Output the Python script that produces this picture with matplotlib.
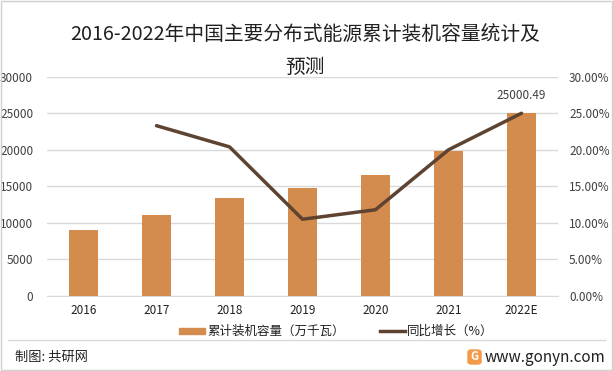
import matplotlib
matplotlib.use("Agg")
import matplotlib.pyplot as plt
from matplotlib.patches import Rectangle, FancyBboxPatch
from matplotlib.lines import Line2D

plt.rcParams['font.family'] = ['Noto Sans CJK SC', 'DejaVu Sans']

years = ["2016", "2017", "2018", "2019", "2020", "2021", "2022E"]
capacity = [9000, 11050, 13370, 14770, 16500, 19900, 25000.49]
growth_years = ["2017", "2018", "2019", "2020", "2021", "2022E"]
growth = [23.3, 20.4, 10.5, 11.8, 20.0, 25.0]
left_ticks = [0, 5000, 10000, 15000, 20000, 25000, 30000]
right_ticks = [0, 5, 10, 15, 20, 25, 30]

title = "2016-2022年中国主要分布式能源累计装机容量统计及\n预测"
bar_label = "累计装机容量（万千瓦）"
line_label = "同比增长（%）"

bar_color = "#D38B4E"
line_color = "#5E4330"

W, H = 613, 371
fig = plt.figure(figsize=(W / 100, H / 100), dpi=100)

ax = fig.add_axes([47 / W, 1 - 296 / H, (558 - 47) / W, (296 - 76.7) / H])
x = list(range(len(years)))
ax.bar(x, capacity, width=0.4, color=bar_color, zorder=3)
ax.set_xlim(-0.5, len(years) - 0.5)
ax.set_ylim(0, 30000)
ax.set_yticks(left_ticks)
ax.set_yticklabels([str(v) for v in left_ticks], fontsize=8.5, color="#404040")
ax.set_xticks(x)
ax.set_xticklabels(years, fontsize=8.5, color="#202020")
ax.tick_params(axis="both", length=0, pad=10)
ax.tick_params(axis="x", pad=6)
ax.grid(axis="y", color="#d9d9d9", linewidth=1, zorder=0)
for s in ["top", "left", "right"]:
    ax.spines[s].set_visible(False)
ax.spines["bottom"].set_color("#d9d9d9")

ax2 = ax.twinx()
gx = [years.index(y) for y in growth_years]
ax2.plot(gx, growth, color=line_color, linewidth=2.5, zorder=4, solid_capstyle="round")
ax2.set_ylim(0, 30)
ax2.set_yticks(right_ticks)
ax2.set_yticklabels([f"{v:.2f}%" for v in right_ticks], fontsize=8.5, color="#404040")
ax2.tick_params(axis="y", length=0, pad=8)
for s in ["top", "left", "right", "bottom"]:
    ax2.spines[s].set_visible(False)

ax2.annotate(f"{capacity[-1]:.2f}", xy=(len(years) - 1, growth[-1]), xytext=(0, 8),
             textcoords="offset points", ha="center", va="bottom", fontsize=8.5, color="#404040")

fig.text(305 / W, 1 - 50.5 / H, title, ha="center", va="center", fontsize=14.2,
         color="#202020", linespacing=1.75)

# legend
fig.patches.append(Rectangle((179 / W, 1 - 334 / H), 26 / W, 6 / H,
                             transform=fig.transFigure, color=bar_color))
fig.text(207 / W, 1 - 331 / H, bar_label, ha="left", va="center", fontsize=9, color="#202020")
fig.lines.append(Line2D([380 / W, 405 / W], [1 - 331 / H, 1 - 331 / H],
                        transform=fig.transFigure, color=line_color, linewidth=2.5))
fig.text(407 / W, 1 - 331 / H, line_label, ha="left", va="center", fontsize=9, color="#202020")

# footer
fig.lines.append(Line2D([8 / W, 605 / W], [1 - 340 / H, 1 - 340 / H],
                        transform=fig.transFigure, color="#d9d9d9", linewidth=1))
fig.text(15 / W, 1 - 357 / H, "制图: 共研网", ha="left", va="center", fontsize=9.5, color="#202020")
fig.patches.append(FancyBboxPatch((468 / W, 1 - 364 / H), 13 / W, 14 / H,
                                  boxstyle="round,pad=0,rounding_size=0.006",
                                  transform=fig.transFigure, color="#F29A4A"))
fig.text(474.5 / W, 1 - 357 / H, "G", ha="center", va="center", fontsize=8,
         color="white", fontweight="bold")
fig.text(605 / W, 1 - 357 / H, "www.gonyn.com", ha="right", va="center", fontsize=11, color="#202020")

# outer border
fig.patches.append(Rectangle((1 / W, 1 / H), (W - 2) / W, (H - 2) / H, transform=fig.transFigure,
                             fill=False, edgecolor="#d0d0d0", linewidth=1))

fig.savefig("out.png", dpi=100)
